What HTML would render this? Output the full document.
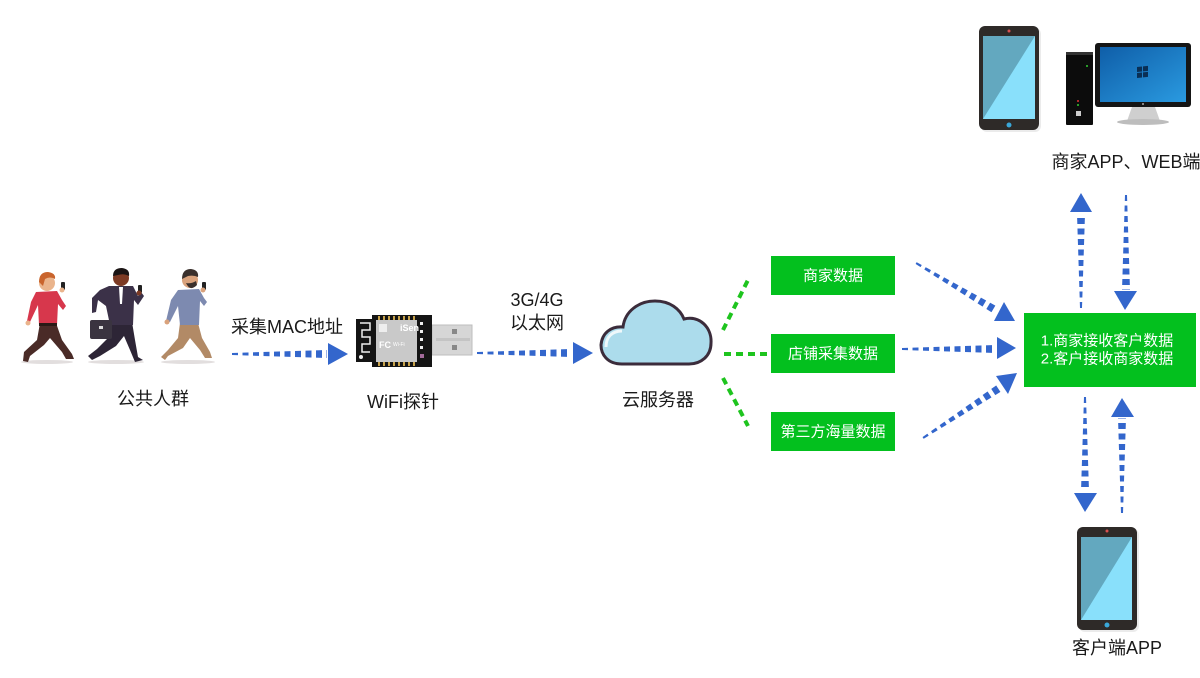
<!DOCTYPE html>
<html><head><meta charset="utf-8">
<style>
html,body{margin:0;padding:0;background:#fff;}
svg{display:block;}
text{font-family:"Liberation Sans","Noto Sans CJK SC",sans-serif;}
</style></head>
<body>
<svg width="1200" height="678" viewBox="0 0 1200 678" xmlns="http://www.w3.org/2000/svg">
<defs>
  <linearGradient id="scr" x1="0" y1="0" x2="1" y2="1">
    <stop offset="0" stop-color="#0f5ea8"/><stop offset="1" stop-color="#2a9ae0"/>
  </linearGradient>
  <clipPath id="c1"><polygon points="0,-1 95,-4 95,4 0,1"/></clipPath>
  <clipPath id="c2"><polygon points="0,-1 94,-4 94,4 0,1"/></clipPath>
</defs>

<!-- ============ People ============ -->
<g>
  <ellipse cx="47" cy="362" rx="26" ry="2" fill="#e2dede"/>
  <ellipse cx="116" cy="362" rx="28" ry="2" fill="#e2dede"/>
  <ellipse cx="188" cy="362" rx="27" ry="2" fill="#e2dede"/>
  <!-- person 1 -->
  <polygon points="40,323 56,323 62,340 72,354 74,359 66,359 62,352 50,338 44,345 30,356 28,362 23,361 24,352 37,340" fill="#4a2b27"/>
  <polygon points="36,292 57,291 62,300 66,306 63,310 58,304 57,325 39,325 38,305 30,322 27,321 31,302" fill="#d7374c"/>
  <rect x="39" y="323" width="18" height="3" fill="#2a1a16"/>
  <circle cx="47" cy="283" r="8" fill="#eab48c"/>
  <path d="M39,282 Q39,272 48,272 Q56,273 55,279 Q50,276 45,279 L43,286 Z" fill="#c9642c"/>
  <rect x="61" y="282" width="4" height="8" rx="1" fill="#222"/>
  <circle cx="62" cy="290" r="2.5" fill="#eab48c"/>
  <circle cx="28" cy="323" r="2.5" fill="#eab48c"/>
  <!-- person 2 -->
  <polygon points="110,322 132,322 135,340 138,357 143,360 135,362 130,350 124,336 116,346 100,356 92,360 88,356 97,349 110,336" fill="#2d2536"/>
  <polygon points="109,286 133,286 138,296 141,292 144,296 138,305 134,300 133,325 110,325 106,306 98,300 96,312 92,313 92,298 100,290" fill="#3b3148"/>
  <polygon points="119,287 123,287 122,304 120,304" fill="#fff"/>
  <rect x="90" y="320" width="22" height="19" rx="2" fill="#3a3440"/>
  <rect x="99" y="326" width="4" height="3" fill="#ddd"/>
  <circle cx="121" cy="278" r="8" fill="#7c3a24"/>
  <path d="M113,276 Q113,268 122,268 Q130,269 129,276 Q124,273 118,275 Z" fill="#1a1414"/>
  <rect x="138" y="285" width="4" height="8" rx="1" fill="#222"/>
  <circle cx="139" cy="293" r="2.5" fill="#7c3a24"/>
  <!-- person 3 -->
  <polygon points="180,323 198,323 202,338 210,352 212,358 205,358 200,350 190,338 183,348 168,356 165,360 161,357 168,350 178,338" fill="#b28a66"/>
  <polygon points="178,290 199,289 204,298 207,302 204,306 200,301 199,325 180,325 178,306 170,322 166,321 171,300" fill="#7d8ab0"/>
  <circle cx="190" cy="280" r="8" fill="#d9a27c"/>
  <path d="M182,279 Q182,269 191,269 Q199,270 198,277 Q194,275 188,276 Z" fill="#3a302c"/>
  <path d="M186,283 Q190,292 197,285 L196,281 Q191,284 186,283 Z" fill="#3a302c"/>
  <rect x="202" y="282" width="4" height="8" rx="1" fill="#222"/>
  <circle cx="203" cy="290" r="2.5" fill="#d9a27c"/>
  <circle cx="167" cy="322" r="2.5" fill="#d9a27c"/>
</g>

<!-- ============ WiFi probe ============ -->
<g>
  <rect x="432" y="325" width="40" height="30" fill="#d6d6d6" stroke="#bdbdbd" stroke-width="1"/>
  <rect x="436" y="338" width="34" height="3" fill="#c4c4c4"/>
  <rect x="452" y="329" width="5" height="5" fill="#888"/>
  <rect x="452" y="345" width="5" height="5" fill="#888"/>
  <path d="M356,319 L372,319 L372,315 L432,315 L432,367 L372,367 L372,362 L356,362 Z" fill="#141414"/>
  <path d="M360,323 L370,323 L370,330 L362,330 L362,337 L370,337 L370,344 L362,344 L362,352 L370,352" fill="none" stroke="#eee" stroke-width="1.5"/>
  <circle cx="361" cy="357" r="2" fill="#eee"/>
  <rect x="376" y="320" width="41" height="42" fill="#c9c9c9"/>
  <g fill="#c8a24a">
    <rect x="378" y="316" width="2" height="4"/><rect x="383" y="316" width="2" height="4"/><rect x="388" y="316" width="2" height="4"/><rect x="393" y="316" width="2" height="4"/><rect x="398" y="316" width="2" height="4"/><rect x="403" y="316" width="2" height="4"/><rect x="408" y="316" width="2" height="4"/><rect x="413" y="316" width="2" height="4"/>
    <rect x="378" y="362" width="2" height="4"/><rect x="383" y="362" width="2" height="4"/><rect x="388" y="362" width="2" height="4"/><rect x="393" y="362" width="2" height="4"/><rect x="398" y="362" width="2" height="4"/><rect x="403" y="362" width="2" height="4"/><rect x="408" y="362" width="2" height="4"/><rect x="413" y="362" width="2" height="4"/>
  </g>
  <g fill="#eee"><rect x="420" y="322" width="3" height="3"/><rect x="420" y="330" width="3" height="3"/><rect x="420" y="338" width="3" height="3"/><rect x="420" y="346" width="3" height="3"/></g>
  <rect x="420" y="354" width="4" height="4" fill="#a36a9a"/>
  <rect x="379" y="324" width="8" height="8" fill="#eee"/>
  <text x="400" y="331" font-size="9" fill="#fff" font-weight="bold">iSen</text>
  <text x="379" y="348" font-size="9" fill="#fff" font-weight="bold">FC</text>
  <text x="393" y="346" font-size="5" fill="#fff">Wi-Fi</text>
</g>

<!-- ============ Cloud ============ -->
<path d="M622,364 C607,364 601,354 601,345 C602,333 611,326 623,327 C625,311 639,301 655,301 C670,301 680,309 684,319 C700,315 712,328 711,343 C711,356 701,364 689,364 Z" fill="#acdcec" stroke="#3b2c3b" stroke-width="3"/>
<path d="M606,347 C606,337 612,331 622,331" fill="none" stroke="#fff" stroke-width="3" opacity="0.8"/>

<!-- ============ Green dotted lines ============ -->
<g stroke="#1ec41e" stroke-width="4" stroke-dasharray="7 5" fill="none">
  <line x1="723" y1="330" x2="748" y2="280"/>
  <line x1="724" y1="354" x2="768" y2="354"/>
  <line x1="723" y1="378" x2="748" y2="426"/>
</g>

<!-- ============ Green boxes ============ -->
<g fill="#03c01e">
  <rect x="771" y="256" width="124" height="39"/>
  <rect x="771" y="334" width="124" height="39"/>
  <rect x="771" y="412" width="124" height="39"/>
  <rect x="1024" y="313" width="172" height="74"/>
</g>
<g fill="#fff" font-size="15" text-anchor="middle" dominant-baseline="central">
  <text x="833" y="276">商家数据</text>
  <text x="833" y="354">店铺采集数据</text>
  <text x="833" y="432">第三方海量数据</text>
  <text x="1107" y="341">1.商家接收客户数据</text>
  <text x="1107" y="359">2.客户接收商家数据</text>
</g>

<!-- ============ Blue tapered dashed arrows ============ -->
<g fill="#3366cc">
  <g transform="translate(232,354)"><line x1="0" y1="0" x2="95" y2="0" stroke="#3366cc" stroke-width="10" stroke-dasharray="6 4.5" clip-path="url(#c1)"/></g>
  <polygon points="328,343 328,365 348,354"/>
  <g transform="translate(477,353)"><line x1="0" y1="0" x2="94" y2="0" stroke="#3366cc" stroke-width="10" stroke-dasharray="6 4.5" clip-path="url(#c2)"/></g>
  <polygon points="573,342 573,364 593,353"/>
  <g transform="translate(916,263) rotate(30.7)"><line x1="0" y1="0" x2="92" y2="0" stroke="#3366cc" stroke-width="10" stroke-dasharray="6 4.5" clip-path="url(#c2)"/></g>
  <polygon points="994,321 1015,321 1004,302"/>
  <g transform="translate(902,349)"><line x1="0" y1="0" x2="92" y2="0" stroke="#3366cc" stroke-width="10" stroke-dasharray="6 4.5" clip-path="url(#c2)"/></g>
  <polygon points="997,337 997,359 1016,348"/>
  <g transform="translate(923,438) rotate(-33.2)"><line x1="0" y1="0" x2="90" y2="0" stroke="#3366cc" stroke-width="10" stroke-dasharray="6 4.5" clip-path="url(#c2)"/></g>
  <polygon points="996,376 1017,373 1008,394"/>
  <g transform="translate(1081,308) rotate(-90)"><line x1="0" y1="0" x2="94" y2="0" stroke="#3366cc" stroke-width="10" stroke-dasharray="6 4.5" clip-path="url(#c2)"/></g>
  <polygon points="1070,212 1092,212 1081,193"/>
  <g transform="translate(1126,195) rotate(90)"><line x1="0" y1="0" x2="95" y2="0" stroke="#3366cc" stroke-width="10" stroke-dasharray="6 4.5" clip-path="url(#c1)"/></g>
  <polygon points="1114,291 1137,291 1125,310"/>
  <g transform="translate(1085,397) rotate(90)"><line x1="0" y1="0" x2="94" y2="0" stroke="#3366cc" stroke-width="10" stroke-dasharray="6 4.5" clip-path="url(#c2)"/></g>
  <polygon points="1074,493 1097,493 1085,512"/>
  <g transform="translate(1122,513) rotate(-90)"><line x1="0" y1="0" x2="95" y2="0" stroke="#3366cc" stroke-width="10" stroke-dasharray="6 4.5" clip-path="url(#c1)"/></g>
  <polygon points="1111,417 1134,417 1122,398"/>
</g>

<!-- ============ Top devices ============ -->
<g>
  <rect x="981" y="28" width="60" height="104" rx="6" fill="#d8d8d8" opacity="0.5"/>
  <rect x="979" y="26" width="60" height="104" rx="6" fill="#2e2a28"/>
  <rect x="983" y="36" width="52" height="83" fill="#89e0fb"/>
  <polygon points="983,36 1035,36 983,119" fill="#63a8bf"/>
  <circle cx="1009" cy="31" r="1.5" fill="#d85050"/>
  <circle cx="1009" cy="125" r="2.5" fill="#3aa7d8"/>
  <rect x="1066" y="52" width="27" height="73" rx="1" fill="#0c0c0c"/>
  <rect x="1066" y="52" width="27" height="3" fill="#333"/>
  <circle cx="1087" cy="66" r="1" fill="#3c3"/>
  <circle cx="1078" cy="101" r="1" fill="#d33"/>
  <circle cx="1078" cy="105" r="1" fill="#3c3"/>
  <rect x="1076" y="111" width="5" height="5" fill="#ccc"/>
  <polygon points="1132,107 1155,107 1160,121 1127,121" fill="#cfcfcf"/>
  <ellipse cx="1143" cy="122" rx="26" ry="3" fill="#bdbdbd"/>
  <rect x="1095" y="43" width="96" height="64" rx="3" fill="#151515"/>
  <rect x="1100" y="47" width="86" height="55" fill="url(#scr)"/>
  <g fill="#0a2f55" transform="translate(1137,67) skewY(-6)">
    <rect x="0" y="0" width="5" height="5"/><rect x="6" y="0" width="5" height="5"/>
    <rect x="0" y="6" width="5" height="5"/><rect x="6" y="6" width="5" height="5"/>
  </g>
  <circle cx="1143" cy="104" r="1" fill="#aaa"/>
</g>

<!-- ============ Bottom phone ============ -->
<g>
  <rect x="1079" y="529" width="60" height="103" rx="6" fill="#d8d8d8" opacity="0.5"/>
  <rect x="1077" y="527" width="60" height="103" rx="6" fill="#2e2a28"/>
  <rect x="1081" y="537" width="51" height="83" fill="#89e0fb"/>
  <polygon points="1081,537 1132,537 1081,620" fill="#63a8bf"/>
  <circle cx="1107" cy="531" r="1.5" fill="#d85050"/>
  <circle cx="1107" cy="625" r="2.5" fill="#3aa7d8"/>
</g>

<!-- ============ Labels ============ -->
<g fill="#1a1a1a" font-size="18" text-anchor="middle" dominant-baseline="central">
  <text x="287" y="327">采集MAC地址</text>
  <text x="153" y="399">公共人群</text>
  <text x="403" y="402">WiFi探针</text>
  <text x="537" y="300">3G/4G</text>
  <text x="537" y="323">以太网</text>
  <text x="658" y="400">云服务器</text>
  <text x="1126" y="162">商家APP、WEB端</text>
  <text x="1117" y="648">客户端APP</text>
</g>
</svg>
</body></html>
